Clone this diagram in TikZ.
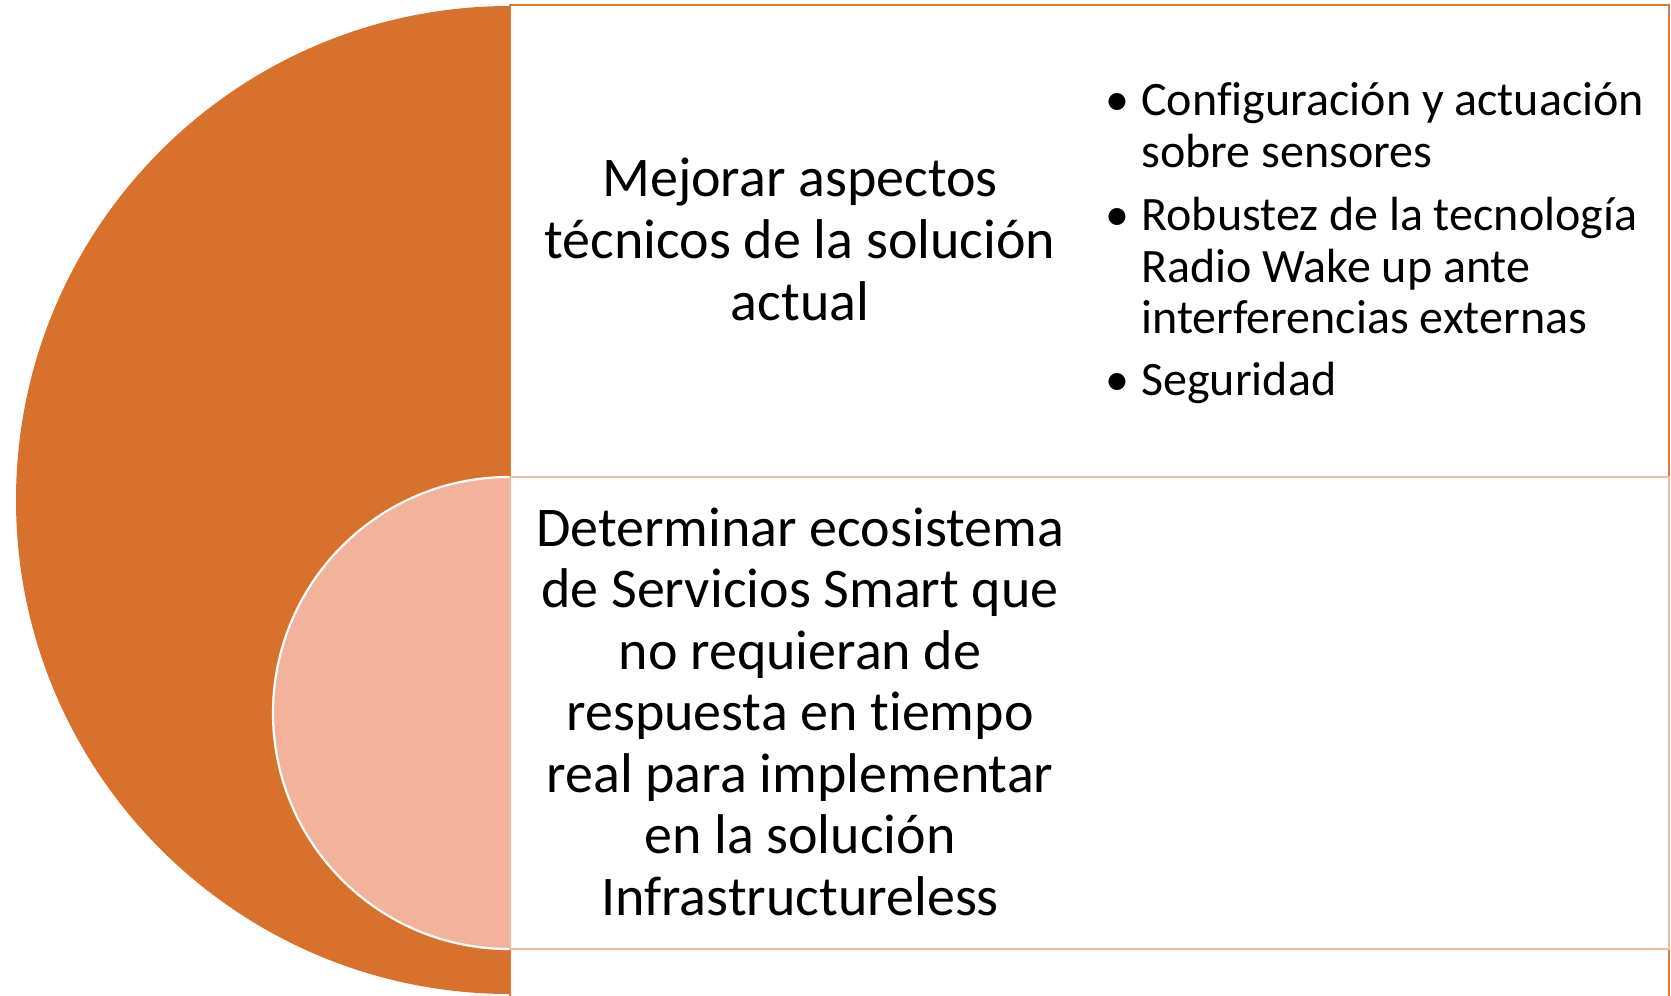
\documentclass[tikz,border=0pt]{standalone}
\usepackage{fontspec}
\setmainfont{Carlito}[Ligatures=NoCommon]
\definecolor{orangeF}{HTML}{D7712D}
\definecolor{orangeL}{HTML}{DC7A3C}
\definecolor{pinkF}{HTML}{F2B29C}
\definecolor{pinkL}{HTML}{F4B9A3}
\tikzset{
  bigtxt/.style={font=\fontsize{28pt}{31pt}\selectfont, anchor=base, inner sep=0pt},
  bultxt/.style={font=\fontsize{24pt}{26pt}\selectfont, anchor=base west, inner sep=0pt},
  bulmark/.style={font=\fontsize{24pt}{26pt}\selectfont, anchor=base, inner sep=0pt},
}
\begin{document}
\begin{tikzpicture}[x=0.5pt,y=-0.5pt]
\useasboundingbox (0,0) rectangle (1671,996);
\clip (0,0) rectangle (1671,996);
\fill[white] (0,0) rectangle (1671,996);
% outer (top) box
\draw[orangeL, line width=1.3pt, fill=white] (510,5) rectangle (1669,1020);
% big orange half disc
\fill[orangeF] (510,6) arc[start angle=90, end angle=270, radius=247pt] -- cycle;
% bottom box
\draw[pinkL, line width=1.3pt, fill=white] (510,477) rectangle (1669,949);
% pink half disc
\fill[pinkF] (509,477) arc[start angle=90, end angle=270, radius=118pt] -- cycle;
\draw[white, line width=1.1pt] (509,477) arc[start angle=90, end angle=270, radius=118pt];
% top-left text
\node[bigtxt] (t1) at (800,196) {Mejorar aspectos};
\node[bigtxt] (t2) at (800,258) {técnicos de la solución};
\node[bigtxt] (t3) at (800,320) {actual};
% bullets
\node[bulmark] (m1) at (1117,115) {•};
\node[bultxt] (b1a) at (1141,115) {Configuración y actuación};
\node[bultxt] (b1b) at (1141,167) {sobre sensores};
\node[bulmark] (m2) at (1117,230) {•};
\node[bultxt] (b2a) at (1141,230) {Robustez de la tecnología};
\node[bultxt] (b2b) at (1141,282) {Radio Wake up ante};
\node[bultxt] (b2c) at (1141,333) {interferencias externas};
\node[bulmark] (m3) at (1117,395) {•};
\node[bultxt] (b3a) at (1141,395) {Seguridad};
% bottom text
\node[bigtxt] (d1) at (800,546) {Determinar ecosistema};
\node[bigtxt] (d2) at (800,607.5) {de Servicios Smart que};
\node[bigtxt] (d3) at (800,669) {no requieran de};
\node[bigtxt] (d4) at (800,730.5) {respuesta en tiempo};
\node[bigtxt] (d5) at (800,792) {real para implementar};
\node[bigtxt] (d6) at (800,853.5) {en la solución};
\node[bigtxt] (d7) at (800,915) {Infrastructureless};
\end{tikzpicture}
\end{document}
